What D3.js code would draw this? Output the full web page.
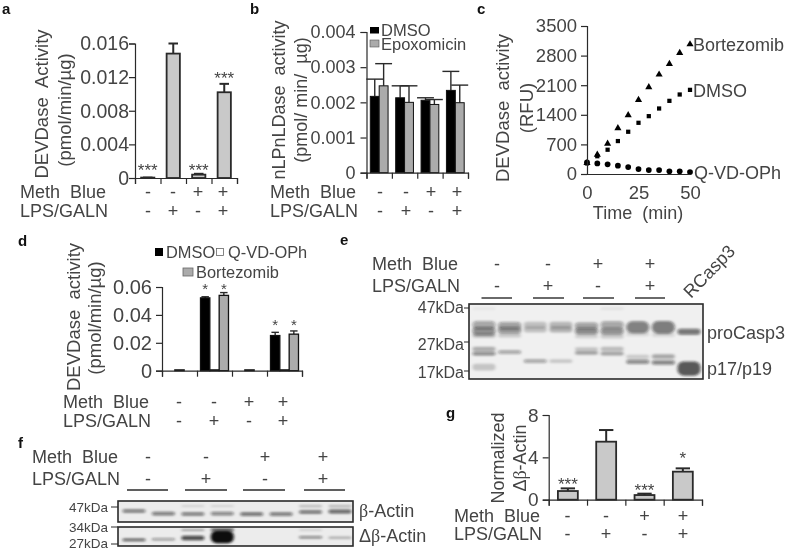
<!DOCTYPE html>
<html><head><meta charset="utf-8">
<script src="https://cdn.jsdelivr.net/npm/d3@7/dist/d3.min.js"></script>
<style>
html,body{margin:0;padding:0;background:#fff}
svg{display:block;filter:blur(0.4px)}
text{font-family:"Liberation Sans",Arial,sans-serif;fill:#444;white-space:pre}
</style></head><body><svg id="c" width="787" height="551"></svg>
<script>
// ---------- data ----------
const methRow = ["-","-","+","+"];
const lpsRow  = ["-","+","-","+"];
const aValues = [0.00005,0.0148,0.0004,0.0102];
const aErrTop = [0.00005,0.0160,0.0005,0.0112];
const aStars  = ["***","","***","***"];
const aTicks  = [0,0.004,0.008,0.012,0.016];
const bDmso   = [0.00217,0.00213,0.00206,0.00234];
const bDmsoErr= [0.00266,0.00247,0.00213,0.00288];
const bEpox   = [0.00247,0.00200,0.00194,0.00199];
const bEpoxErr= [0.00310,0.00247,0.00208,0.00249];
const bTicks  = [0,0.001,0.002,0.003,0.004];
const cTime   = [0,5,10,15,20,25,30,35,40,45,50];
const cBort   = [260,456,716,1085,1392,1754,2053,2352,2603,2863,3067];
const cDmso   = [250,420,574,779,999,1211,1368,1549,1730,1880,1990];
const cQvd    = [275,250,228,197,165,118,94,94,63,63,47];
const cYTicks = [0,700,1400,2100,2800,3500];
const cXTicks = [0,25,50];
const dDmso   = [0,0.0522,0,0.0252];
const dDmsoErr= [0,0.0530,0,0.0275];
const dQvd    = [0.0006,0.0006,0.0006,0.0006];
const dBort   = [0,0.0540,0,0.0262];
const dBortErr= [0,0.0560,0,0.0285];
const dStarAt = [0,0.0552,0,0.0292];
const dTicks  = [0,0.02,0.04,0.06];
const gValues = [0.82,5.48,0.44,2.65];
const gErrTop = [1.07,6.58,0.57,2.96];
const gStars  = ["***","","***","*"];
const gTicks  = [0,4,8];
// blot bands: lane, migration (% of blot height), intensity, spread (% of blot height)
const blotE = [
 [1,28,.34,11],[1,36,.44,11],[1,42,.22,6],[1,60,.28,6],[1,66,.45,5],[1,84,.18,9],[1,6,.05,3],
 [2,29,.36,10],[2,35,.4,9],[2,42,.16,5],[2,64,.33,5],
 [3,28,.2,9],[3,34,.2,8],[3,76,.33,5],
 [4,28,.24,9],[4,34,.26,8],[4,76,.17,5],
 [5,29,.36,9],[5,36,.46,9],[5,43,.14,5],[5,60,.19,5],[5,65,.32,5],
 [6,28,.34,10],[6,36,.44,9],[6,43,.16,6],[6,60,.22,6],[6,66,.32,5],[6,6,.07,3],
 [7,31,.5,16],[7,40,.1,6],[7,70,.16,5],[7,77,.44,6],
 [8,31,.52,17],[8,41,.1,6],[8,70,.3,6],[8,78,.48,6],
 [9,37,.55,8],[9,86,.68,19]
];
const blotFTop = [
 [1,48,.5,17],[2,60,.5,18],[3,62,.5,17],[4,60,.46,17],[5,62,.54,18],[6,62,.5,18],[7,52,.54,17],[8,50,.6,18],
 [3,24,.12,10],[4,24,.12,10],[7,24,.22,11],[8,24,.24,11]
];
const blotFBot = [
 [1,68,.62,15],[2,64,.36,13],[3,58,.72,24],[4,52,1,66],[3,16,.32,10],[4,15,.66,16],[7,54,.46,14],[7,16,.12,10],[8,56,.26,13]
];
const kDaE = ["47kDa","27kDa","17kDa"];
const kDaF = ["47kDa","34kDa","27kDa"];

// ---------- helpers ----------
const svg = d3.select("#c");
const ink = "#2a2a2a";
svg.append("defs").append("filter").attr("id","band").attr("x","-20%").attr("y","-200%").attr("width","140%").attr("height","500%")
  .append("feGaussianBlur").attr("stdDeviation","1.7 1.05");
function label(s,x,y,size,opt={}){
  const t = svg.append("text").attr("x",x).attr("y",y).attr("font-size",size).text(s);
  if(opt.anchor) t.attr("text-anchor",opt.anchor);
  if(opt.weight){t.attr("font-weight",opt.weight).style("fill","#111");}
  return t;
}
function vlabel(s,x,yc,size){
  return svg.append("text").attr("transform",`translate(${x},${yc}) rotate(-90)`)
    .attr("text-anchor","middle").attr("font-size",size).text(s);
}
function greek(sel,parts){
  sel.text(null);
  parts.forEach(([s,serif])=>{const ts=sel.append("tspan").text(s); if(serif) ts.style("font-family","'Liberation Serif',serif");});
}
function rows(xs,lx,ly1,ly2,size=18){
  label("Meth  Blue",lx,ly1,size);
  label("LPS/GALN",lx,ly2,size);
  xs.forEach((x,i)=>{
    label(methRow[i],x,ly1,size,{anchor:"middle"});
    label(lpsRow[i],x,ly2,size,{anchor:"middle"});
  });
}
function axisStyle(g,fs){
  g.selectAll("path,line").attr("stroke",ink).attr("stroke-width",1.2);
  g.selectAll("text").attr("font-size",fs).attr("fill",null);
}
function yAxis(y,x,ticks,fmt,fs,pad=6){
  const g = svg.append("g").attr("transform",`translate(${x},0)`)
    .call(d3.axisLeft(y).tickValues(ticks).tickSizeOuter(0).tickSize(6).tickPadding(pad).tickFormat(fmt));
  axisStyle(g,fs); return g;
}
function xAxis(x0,x1,y0,n=4,size=6){
  const s = d3.scaleLinear().domain([0,n]).range([x0,x1]);
  const g = svg.append("g").attr("transform",`translate(0,${y0})`)
    .call(d3.axisBottom(s).tickValues(d3.range(n+1)).tickSizeOuter(0).tickSize(size).tickFormat(""));
  axisStyle(g,10);
}
function errCap(xc,yTop,yBase,cap,w=1.6){
  svg.append("line").attr("x1",xc).attr("x2",xc).attr("y1",yTop).attr("y2",yBase).attr("stroke",ink).attr("stroke-width",w);
  svg.append("line").attr("x1",xc-cap).attr("x2",xc+cap).attr("y1",yTop).attr("y2",yTop).attr("stroke",ink).attr("stroke-width",w);
}
function singleBars(o){
  const y = d3.scaleLinear().domain(o.domain).range(o.yr);
  const x = d3.scaleBand().domain(d3.range(4)).range(o.xr).paddingInner(o.pad).paddingOuter(o.pad/2);
  o.values.forEach((v,i)=>{
    errCap(x(i)+x.bandwidth()/2,y(o.err[i]),y(v),x.bandwidth()*0.36,2);
    svg.append("rect").attr("x",x(i)).attr("y",y(v)).attr("width",x.bandwidth()).attr("height",y(0)-y(v))
      .attr("fill","#c9c9c9").attr("stroke",ink).attr("stroke-width",1.8);
    if(o.stars[i]) label(o.stars[i],x(i)+x.bandwidth()/2,y(o.err[i])-o.starGap[i],o.starSize,{anchor:"middle"});
  });
  yAxis(y,o.xr[0],o.ticks,o.fmt,o.fs,o.tickPad);
  xAxis(o.xr[0],o.xr[1],o.yr[0]);
  return x;
}

// ---------- a ----------
label("a",2,14,15,{weight:"bold"});
singleBars({domain:[0,0.016],yr:[178,43.5],xr:[135,237],pad:.48,values:aValues,err:aErrTop,stars:aStars,
  starGap:[2,0,-2,0],starSize:17,ticks:aTicks,fmt:d=>d===0?"0":d3.format(".3f")(d),fs:19.5,tickPad:0});
vlabel("DEVDase  Activity",48,104,18.5);
vlabel("(pmol/min/µg)",71,110,18.5);
rows([148,173,198,223],20,198,217);

// ---------- b ----------
label("b",250,14,15,{weight:"bold"});
{
  const y = d3.scaleLinear().domain([0,0.004]).range([172.7,32]);
  const x = d3.scaleBand().domain(d3.range(4)).range([366.5,468]).paddingInner(.3).paddingOuter(.15);
  const bw = x.bandwidth()/2;
  [[bDmso,bDmsoErr,"#000",0],[bEpox,bEpoxErr,"#ababab",1]].forEach(([vals,errs,col,k])=>{
    vals.forEach((v,i)=>{
      errCap(x(i)+bw*k+bw/2,y(errs[i]),y(v),bw*.95,1.4);
      svg.append("rect").attr("x",x(i)+bw*k).attr("y",y(v)).attr("width",bw).attr("height",y(0)-y(v))
        .attr("fill",col).attr("stroke","#111").attr("stroke-width",1);
    });
  });
  yAxis(y,366.5,bTicks,d=>d===0?"0":d3.format(".3f")(d),18,5);
  xAxis(366.5,468,172.7);
}
svg.append("rect").attr("x",370).attr("y",27).attr("width",9).attr("height",6.5).attr("fill","#000");
label("DMSO",381,35.5,16.5);
svg.append("rect").attr("x",370).attr("y",40).attr("width",9).attr("height",7).attr("fill","#ababab").attr("stroke","#555").attr("stroke-width",.6);
label("Epoxomicin",381,50,16.5);
vlabel("nLPnLDase  activity",285,100,18);
vlabel("(pmol/ min/  µg)",307,100,18);
rows([380,406,431,457],270,198,217);

// ---------- c ----------
label("c",477,14,15,{weight:"bold"});
{
  const y = d3.scaleLinear().domain([0,3500]).range([174,26]);
  const x = d3.scaleLinear().domain([0,50]).range([587,690]);
  const tri = d3.symbol().type(d3.symbolTriangle).size(22);
  const sq  = d3.symbol().type(d3.symbolSquare).size(18);
  const cir = d3.symbol().type(d3.symbolCircle).size(26);
  [[cBort,tri],[cDmso,sq],[cQvd,cir]].forEach(([vals,sym])=>{
    svg.append("g").selectAll("path").data(vals).join("path")
      .attr("d",sym).attr("fill","#000")
      .attr("transform",(d,i)=>`translate(${x(cTime[i])},${y(d)})`);
  });
  yAxis(y,587,cYTicks,d3.format("d"),18.5,4);
  const g = svg.append("g").attr("transform","translate(0,174)")
    .call(d3.axisBottom(x).tickValues(cXTicks).tickSizeOuter(0).tickSize(0).tickPadding(12).tickFormat(d3.format("d")));
  axisStyle(g,18.5);
}
label("Bortezomib",693,50.5,18);
label("DMSO",693,96.5,18);
label("Q-VD-OPh",694,179,18);
label("Time  (min)",638,219,18,{anchor:"middle"});
vlabel("DEVDase  activity",509,108,18.5);
vlabel("(RFU)",533,108,18.5);

// ---------- d ----------
label("d",18,246,15,{weight:"bold"});
{
  const y = d3.scaleLinear().domain([0,0.06]).range([370.7,287]);
  const x = d3.scaleBand().domain(d3.range(4)).range([162,302]).paddingInner(.2).paddingOuter(.1);
  const bw = x.bandwidth()/3;
  [[dDmso,dDmsoErr,"#000",0],[dQvd,dQvd,"#fff",1],[dBort,dBortErr,"#ababab",2]].forEach(([vals,errs,col,k])=>{
    vals.forEach((v,i)=>{
      if(v===0) return;
      if(k!==1) errCap(x(i)+bw*k+bw/2,y(errs[i]),y(v),bw*.4,1.4);
      svg.append("rect").attr("x",x(i)+bw*k).attr("y",y(v)).attr("width",bw).attr("height",y(0)-y(v))
        .attr("fill",col).attr("stroke","#111").attr("stroke-width",1.3);
      if(k!==1) label("*",x(i)+bw*k+bw/2,y(dStarAt[i]),15,{anchor:"middle"});
    });
  });
  yAxis(y,162,dTicks,d=>d===0?"0":d3.format(".2f")(d),20,4);
  xAxis(162,302,370.7);
}
svg.append("rect").attr("x",155).attr("y",248).attr("width",8).attr("height",8).attr("fill","#000");
label("DMSO",166,258,16.4);
svg.append("rect").attr("x",216.5).attr("y",248.5).attr("width",7).attr("height",7).attr("fill","#fff").attr("stroke","#666").attr("stroke-width",.8);
label("Q-VD-OPh",228,258,16.4);
svg.append("rect").attr("x",183).attr("y",268).attr("width",10).attr("height",8).attr("fill","#ababab").attr("stroke","#666").attr("stroke-width",.8);
label("Bortezomib",196,278,16.4);
vlabel("DEVDase  activity",80,317,18.5);
vlabel("(pmol/min/µg)",101,318,18.5);
rows([179,214,249,283],63,408,427);

// ---------- e ----------
label("e",340,245,15,{weight:"bold"});
function blot(bands,x0,x1,y0,y1,laneScale,laneW,bg){
  const g = svg.append("g");
  const m = d3.scaleLinear().domain([0,100]).range([y0,y1]);
  const h = y1-y0;
  const clipId = "clip"+Math.round(x0)+Math.round(y0);
  svg.select("defs").append("clipPath").attr("id",clipId).append("rect").attr("x",x0).attr("y",y0).attr("width",x1-x0).attr("height",h);
  g.append("rect").attr("x",x0).attr("y",y0).attr("width",x1-x0).attr("height",h).attr("fill",bg);
  const inner = g.append("g").attr("clip-path",`url(#${clipId})`);
  inner.selectAll("rect").data(bands).join("rect")
    .attr("x",d=>laneScale(d[0])-laneW/2).attr("width",laneW)
    .attr("y",d=>m(d[1])-h*d[3]/200).attr("height",d=>h*d[3]/100)
    .attr("rx",d=>Math.min(h*d[3]/200,6)).attr("fill","#111").attr("fill-opacity",d=>d[2]).attr("filter","url(#band)");
  g.append("rect").attr("x",x0).attr("y",y0).attr("width",x1-x0).attr("height",h)
    .attr("fill","none").attr("stroke","#2a2a2a").attr("stroke-width",1.6);
}
blot(blotE,469,703,304,379,d3.scaleLinear().domain([1,9]).range([484,689]),23,"#f0f0f0");
d3.zip(kDaE,[313,350,378],[308,342,371]).forEach(([s,by,ty])=>{
  label(s,464,by,16,{anchor:"end"});
  svg.append("line").attr("x1",464).attr("x2",469).attr("y1",ty).attr("y2",ty).attr("stroke",ink).attr("stroke-width",1);
});
label("proCasp3",707,339,18);
label("p17/p19",707,375,18);
rows([497,548,598,650],372,270,292);
d3.zip([481.5,533,583,635],[512,564,614,665]).forEach(([a,b])=>{
  svg.append("line").attr("x1",a).attr("x2",b).attr("y1",298).attr("y2",298).attr("stroke",ink).attr("stroke-width",1.4);
});
svg.append("text").attr("transform","translate(691,299) rotate(-46)").attr("font-size",18).text("RCasp3");

// ---------- f ----------
label("f",18,448,15,{weight:"bold"});
{
  const lane = d3.scaleLinear().domain([1,8]).range([134,340]);
  blot(blotFTop,118,353,501,522,lane,23,"#ececec");
  blot(blotFBot,118,353,527,546,lane,23,"#ececec");
}
d3.zip(kDaF,[512,532,548],[507,527,544]).forEach(([s,by,ty])=>{
  label(s,108,by,13.5,{anchor:"end"});
  svg.append("line").attr("x1",111).attr("x2",118).attr("y1",ty).attr("y2",ty).attr("stroke",ink).attr("stroke-width",1);
});
greek(label("",359,517,18),[["β",true],["-Actin",false]]);
greek(label("",359,542,18),[["Δ",false],["β",true],["-Actin",false]]);
rows([148,206,265,323],32,463,485);
d3.zip([127,185,243,304],[168,227,285,345]).forEach(([a,b])=>{
  svg.append("line").attr("x1",a).attr("x2",b).attr("y1",490).attr("y2",490).attr("stroke",ink).attr("stroke-width",1.4);
});

// ---------- g ----------
label("g",446,418,15,{weight:"bold"});
singleBars({domain:[0,8],yr:[499.7,415],xr:[548.7,702],pad:.48,values:gValues,err:gErrTop,stars:gStars,
  starGap:[-2,0,-2,4],starSize:17,ticks:gTicks,fmt:d3.format("d"),fs:19,tickPad:4});
vlabel("Normalized",504,458,18);
greek(vlabel("",526,458,18),[["Δ",false],["β",true],["-Actin",false]]);
rows([567.5,606,644.5,683],454,522,540);
</script></body></html>
